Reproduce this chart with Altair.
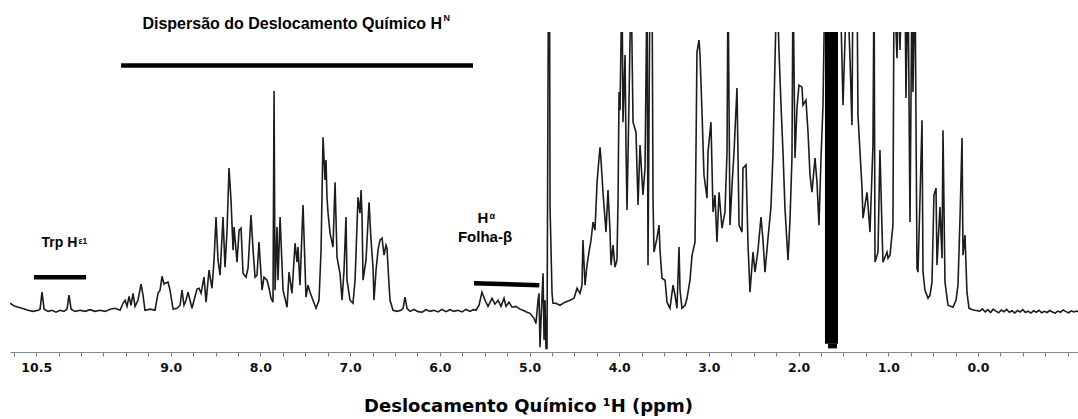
import altair as alt
import pandas as pd

# ---------------- spectrum: (ppm, intensity) ----------------
amide_region = [
    (10.792, 2.5), (10.736, 1.4), (10.658, 0.7), (10.591, 0.0), (10.535, -0.4), (10.479, 0.0),
    (10.457, 0.4), (10.435, 6.5), (10.412, 0.4), (10.368, -0.4), (10.323, 0.0), (10.279, -0.7),
    (10.234, 0.0), (10.190, -0.4), (10.156, 0.4), (10.134, 5.4), (10.111, 0.4), (10.067, -0.4),
    (10.011, 0.0), (9.955, -0.4), (9.900, 0.2), (9.844, -0.4), (9.788, 0.0), (9.732, -0.4),
    (9.677, 0.4), (9.621, 0.7), (9.565, 0.0), (9.532, 2.5), (9.509, 3.6), (9.487, 1.4),
    (9.465, 5.0), (9.443, 1.8), (9.420, 6.1), (9.398, 1.4), (9.365, 3.6), (9.331, 9.4),
    (9.309, 5.4), (9.287, 0.0), (9.231, 0.4), (9.175, 0.0), (9.142, 6.1), (9.119, 7.2),
    (9.097, 12.2), (9.075, 9.4), (9.064, 9.7), (9.030, 10.1), (9.008, 7.2), (8.974, 0.4),
    (8.930, 0.7), (8.896, 1.8), (8.874, 7.2), (8.852, 1.8), (8.829, 3.6), (8.807, 6.5),
    (8.785, 3.6), (8.763, 0.7), (8.740, 3.6), (8.707, 7.6), (8.685, 7.9), (8.662, 6.1),
    (8.629, 11.9), (8.606, 2.9), (8.573, 14.4), (8.540, 7.9), (8.517, 18.0), (8.495, 33.5),
    (8.473, 18.0), (8.450, 12.6), (8.417, 33.5), (8.395, 15.5), (8.372, 28.8), (8.350, 51.1),
    (8.328, 39.6), (8.305, 21.6), (8.294, 29.9), (8.261, 17.3), (8.238, 28.8), (8.216, 29.5),
    (8.194, 13.3), (8.161, 11.9), (8.138, 15.1), (8.105, 34.2), (8.082, 21.6), (8.060, 11.9),
    (8.038, 12.6), (8.016, 24.5), (7.982, 7.2), (7.960, 11.9), (7.926, 10.8), (7.904, 7.9),
    (7.882, 4.3), (7.860, 2.9), (7.848, 78.8), (7.837, 7.2), (7.815, 29.9), (7.804, 10.8),
    (7.781, 33.5), (7.748, 7.2), (7.703, 1.1), (7.681, 13.7), (7.648, 6.1), (7.614, 24.1),
    (7.592, 17.3), (7.581, 22.7), (7.559, 9.0), (7.525, 37.8), (7.492, 4.7), (7.469, 9.0),
    (7.447, 6.5), (7.414, 3.6), (7.380, 0.7), (7.347, 3.6), (7.324, 21.6), (7.302, 62.2),
    (7.280, 46.8), (7.269, 54.0), (7.258, 40.6), (7.246, 34.9), (7.224, 27.7), (7.191, 22.7),
    (7.168, 46.0), (7.146, 19.1), (7.113, 13.3), (7.090, 3.6), (7.068, 14.4), (7.046, 33.5),
    (7.035, 10.8), (7.001, 3.6), (6.968, 2.5), (6.945, 10.8), (6.912, 40.6), (6.890, 34.9),
    (6.878, 43.2), (6.867, 33.5), (6.856, 10.8), (6.823, 18.0), (6.789, 38.8), (6.767, 25.2),
    (6.745, 15.5), (6.734, 3.6), (6.711, 14.4), (6.689, 21.6), (6.667, 25.2), (6.644, 25.9),
    (6.622, 19.8), (6.600, 23.4), (6.589, 22.3), (6.566, 9.0), (6.555, 3.6), (6.522, 0.0),
    (6.477, -0.4), (6.433, 0.0), (6.410, 0.7), (6.388, 4.7), (6.366, 0.7), (6.332, -0.4),
]

alpha_region = [
    (6.288, 0.3), (6.243, -0.5), (6.198, -0.7), (6.154, 0.2), (6.109, -0.4), (6.065, 0.0),
    (6.020, -0.6), (5.976, 0.3), (5.931, -0.5), (5.886, 0.2), (5.842, -0.4), (5.797, 0.0),
    (5.753, -0.6), (5.708, 0.3), (5.664, -0.4), (5.630, 0.2), (5.596, 0.0), (5.563, 1.8),
    (5.530, 6.5), (5.496, 3.6), (5.463, 1.4), (5.418, 4.3), (5.385, 2.2), (5.351, 3.6),
    (5.318, 1.4), (5.284, 4.3), (5.262, 1.4), (5.229, 2.9), (5.195, 1.1), (5.151, 1.4),
    (5.106, 0.4), (5.072, 0.0), (5.028, -0.7), (4.994, -1.1), (4.950, -2.9), (4.928, -4.7),
    (4.905, 3.6), (4.894, 6.1), (4.883, -13.3), (4.872, -3.6), (4.849, 13.3), (4.838, -10.8),
    (4.827, 3.6), (4.816, -13.7), (4.805, -13.7), (4.794, 80.0), (4.788, 120.0), (4.777, 120.0),
    (4.771, 37.0), (4.760, 21.6), (4.749, 6.1), (4.738, 2.5),
]

aliphatic_region = [
    (4.705, 2.5), (4.660, 1.8), (4.604, 2.9), (4.548, 3.6), (4.504, 4.3), (4.470, 7.9),
    (4.437, 6.1), (4.415, 9.0), (4.404, 25.2), (4.381, 9.0), (4.359, 16.2), (4.337, 20.9),
    (4.314, 25.2), (4.292, 31.7), (4.270, 28.8), (4.247, 46.0), (4.236, 50.4), (4.214, 58.6),
    (4.203, 54.0), (4.181, 42.4), (4.147, 28.1), (4.125, 43.2), (4.103, 28.8), (4.091, 16.2),
    (4.069, 23.4), (4.047, 15.5), (4.025, 18.0), (4.013, 39.6), (4.002, 78.4), (3.991, 71.9),
    (3.969, 120.0), (3.958, 67.6), (3.935, 91.7), (3.924, 57.6), (3.913, 36.0), (3.891, 74.8),
    (3.868, 120.0), (3.846, 67.6), (3.813, 64.0), (3.790, 37.8), (3.768, 59.4), (3.735, 41.4),
    (3.712, 51.1), (3.690, 120.0), (3.679, 16.2), (3.657, 120.0), (3.634, 120.0), (3.623, 39.6),
    (3.612, 20.9), (3.579, 25.9), (3.556, 30.6), (3.545, 21.6), (3.523, 11.5), (3.489, 10.8),
    (3.467, 2.9), (3.434, 0.7), (3.400, 9.0), (3.378, 5.4), (3.356, 0.7), (3.333, 22.7),
    (3.322, 7.2), (3.300, 0.7), (3.266, 1.8), (3.244, 4.3), (3.211, 10.8), (3.188, 19.8),
    (3.155, 24.5), (3.144, 57.6), (3.133, 92.8), (3.110, 97.1), (3.099, 91.7), (3.077, 71.2),
    (3.055, 48.6), (3.021, 40.3), (3.010, 56.8), (2.977, 67.6), (2.954, 35.3), (2.932, 41.4),
    (2.910, 24.5), (2.887, 42.4), (2.854, 29.5), (2.821, 35.3), (2.798, 56.8), (2.787, 120.0),
    (2.765, 30.6), (2.742, 45.0), (2.720, 56.8), (2.687, 79.9), (2.664, 30.6), (2.631, 28.1),
    (2.620, 51.1), (2.586, 52.2), (2.564, 23.4), (2.542, 6.5), (2.508, 20.9), (2.486, 13.7),
    (2.453, 21.6), (2.419, 33.5), (2.397, 25.2), (2.375, 13.7), (2.341, 25.9), (2.308, 37.1),
    (2.285, 56.8), (2.263, 89.9), (2.241, 120.0), (2.219, 93.5), (2.196, 73.7), (2.174, 56.8),
    (2.152, 36.7), (2.118, 18.0), (2.096, 32.4), (2.074, 54.7), (2.062, 120.0), (2.040, 54.7),
    (2.018, 72.7), (1.996, 80.9), (1.962, 80.2), (1.951, 73.7), (1.918, 75.5), (1.895, 64.0),
    (1.873, 48.6), (1.851, 42.4), (1.817, 54.7), (1.795, 46.0), (1.773, 30.6), (1.750, 54.7),
    (1.728, 73.7), (1.706, 120.0),
]

methyl_region = [
    (1.561, 120.0), (1.538, 120.0), (1.505, 73.7), (1.483, 97.0), (1.460, 120.0), (1.427, 90.6),
    (1.405, 66.5), (1.394, 120.0), (1.349, 120.0), (1.338, 70.1), (1.293, 43.9), (1.282, 33.1),
    (1.260, 37.8), (1.237, 42.4), (1.204, 28.1), (1.171, 59.4), (1.159, 120.0), (1.148, 17.3),
    (1.115, 20.9), (1.093, 57.6), (1.070, 28.8), (1.059, 17.3), (1.014, 20.9), (1.003, 18.7),
    (0.981, 19.8), (0.948, 30.6), (0.936, 120.0), (0.903, 90.6), (0.881, 120.0), (0.870, 93.5),
    (0.847, 120.0), (0.814, 120.0), (0.803, 76.3), (0.780, 120.0), (0.758, 31.7), (0.736, 120.0),
    (0.725, 78.4), (0.702, 120.0), (0.680, 15.1), (0.669, 13.7), (0.647, 39.6), (0.624, 68.3),
    (0.613, 13.7), (0.591, 7.2), (0.557, 4.3), (0.535, 5.4), (0.513, 10.1), (0.491, 41.4),
    (0.468, 43.9), (0.457, 16.2), (0.424, 37.1), (0.401, 18.7), (0.390, 64.7), (0.368, 10.1),
    (0.334, 1.8), (0.279, 1.1), (0.245, 3.6), (0.223, 9.0), (0.201, 32.4), (0.178, 61.9),
    (0.167, 19.8), (0.145, 27.0), (0.123, 6.5), (0.100, 0.7), (0.067, 0.3), (0.033, 0.0),
]

baseline_right = [
    (-0.02, -0.3), (-0.05, 0.5), (-0.08, -0.6), (-0.11, 0.2), (-0.14, -0.8), (-0.17, 0.4),
    (-0.20, -0.3), (-0.23, -0.9), (-0.26, 0.1), (-0.29, -0.5), (-0.32, 0.3), (-0.35, -0.7),
    (-0.38, -0.2), (-0.41, -1.0), (-0.44, -0.1), (-0.47, -0.6), (-0.50, 0.2), (-0.53, -0.8),
    (-0.56, -0.3), (-0.59, -1.0), (-0.62, -0.2), (-0.65, -0.7), (-0.68, 0.0), (-0.71, -0.9),
    (-0.74, -0.4), (-0.77, -0.8), (-0.80, -0.1), (-0.83, -0.6), (-0.86, -1.0), (-0.89, -0.3),
    (-0.92, -0.7), (-0.95, 0.1), (-0.98, -0.5), (-1.01, -0.9), (-1.04, -0.2), (-1.07, -0.6),
    (-1.10, -0.3), (-1.115, -0.5),
]

# saturated solvent band around 1.6 ppm
solvent_start = [1.706, 1.672]
solvent_end = [1.561, 1.572]
solvent_low = [-12.0, -13.7]
solvent_high = [100.0, -12.0]

# region bars
bar_names = ["HN dispersion", "Trp He1", "Ha beta sheet"]
bar_from = [9.554, 10.524, 5.619]
bar_to = [5.630, 9.944, 4.891]
bar_level_from = [88.0, 11.9, 9.7]
bar_level_to = [88.0, 11.9, 9.0]

# axis ticks / labels
tick_values = [10.75 - 0.25 * i for i in range(48)]
labelled_ticks = [10.5, 9.0, 8.0, 7.0, 6.0, 5.0, 4.0, 3.0, 2.0, 1.0, 0.0]

# ---------------- build ----------------
points = amide_region + alpha_region + aliphatic_region + methyl_region + baseline_right
spec = pd.DataFrame(points, columns=["ppm", "intensity"])
spec["order"] = range(len(spec))

solvent = pd.DataFrame({"s": solvent_start, "e": solvent_end, "lo": solvent_low, "hi": solvent_high})
bars = pd.DataFrame({"name": bar_names, "a": bar_from, "b": bar_to, "y1": bar_level_from, "y2": bar_level_to})

xs = alt.Scale(domain=[-1.115, 10.792], reverse=True, nice=False, zero=False)
ys = alt.Scale(domain=[-15, 100], nice=False, zero=False)

label_list = "[" + ",".join("'%.1f'" % v for v in labelled_ticks) + "]"
x_axis = alt.Axis(
    title="Deslocamento Químico ¹H (ppm)",
    values=tick_values,
    labelExpr="indexof(%s, format(datum.value, '.1f')) >= 0 ? format(datum.value, '.1f') : ''" % label_list,
    labelFont="DejaVu Sans", labelFontWeight="bold", labelFontSize=12.5, labelColor="#111111",
    labelPadding=5, labelFlush=False, labelOverlap=False,
    tickSize=4, tickColor="#777777", domainColor="#888888", domainWidth=1, grid=False,
    titleFont="DejaVu Sans", titleFontWeight="bold", titleFontSize=18, titleColor="#000000",
    titleX=518, titleY=59, titleAlign="center", titleBaseline="alphabetic",
)

line = alt.Chart(spec).mark_line(color="#1c1c1c", strokeWidth=1.6, clip=True).encode(
    x=alt.X("ppm:Q", scale=xs, axis=x_axis),
    y=alt.Y("intensity:Q", scale=ys, axis=None),
    order="order:Q",
)

band = alt.Chart(solvent).mark_rect(color="#000000", clip=True).encode(
    x=alt.X("s:Q", scale=xs, axis=x_axis), x2="e:Q",
    y=alt.Y("lo:Q", scale=ys, axis=None), y2="hi:Q",
)

rules = alt.Chart(bars).mark_rule(color="#000000", strokeWidth=4.5).encode(
    x=alt.X("a:Q", scale=xs, axis=x_axis), x2="b:Q",
    y=alt.Y("y1:Q", scale=ys, axis=None), y2="y2:Q",
)


def note(text, at_ppm, at_int, size, align):
    return alt.Chart(pd.DataFrame({"t": [text]})).mark_text(
        align=align, baseline="alphabetic", fontSize=size, fontWeight="bold",
        font="Liberation Sans", color="#000000",
    ).encode(
        x=alt.X(datum=at_ppm, scale=xs, axis=x_axis),
        y=alt.Y(datum=at_int, scale=ys, axis=None),
        text="t:N",
    )


notes = [
    note("Dispersão do Deslocamento Químico H", 5.975, 101.1, 16, "right"),
    note("N", 5.959, 104.0, 9, "left"),
    note("Trp H", 10.041, 22.8, 14, "right"),
    note("ε1", 10.028, 23.9, 8.5, "left"),
    note("H", 5.459, 31.2, 15, "right"),
    note("α", 5.446, 32.9, 9, "left"),
    note("Folha-β", 5.496, 24.6, 15, "center"),
]

chart = alt.layer(line, band, rules, *notes).properties(
    width=1068, height=320,
    padding={"left": 10, "top": 32, "right": 0, "bottom": 67},
    autosize=alt.AutoSizeParams(type="none"),
    background="white",
).configure_view(stroke=None)

chart.save("out.html", embed_options={"renderer": "svg", "actions": False})
